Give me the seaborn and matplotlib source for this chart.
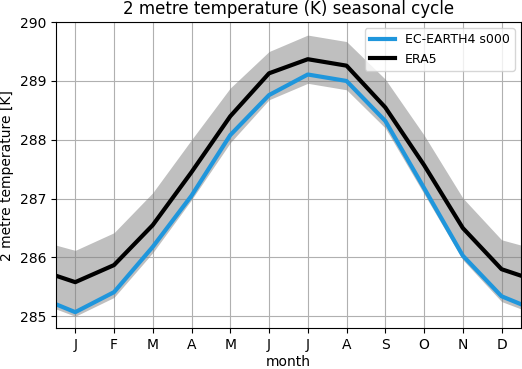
import numpy as np
import pandas as pd
import matplotlib
matplotlib.use("Agg")
import matplotlib.pyplot as plt
import seaborn as sns

month_labels = ["J", "F", "M", "A", "M", "J", "J", "A", "S", "O", "N", "D"]
model_mean = [285.07, 285.41, 286.18, 287.05, 288.08, 288.76, 289.11, 289.0, 288.32, 287.18, 286.03, 285.34]
era5_mean = [285.58, 285.87, 286.55, 287.45, 288.4, 289.13, 289.37, 289.26, 288.55, 287.57, 286.5, 285.8]
era5_upper = [286.12, 286.42, 287.1, 288.0, 288.88, 289.5, 289.78, 289.67, 289.03, 288.08, 287.01, 286.3]
era5_lower = [285.0, 285.32, 286.08, 286.98, 287.95, 288.68, 288.96, 288.85, 288.2, 287.08, 285.96, 285.25]


def wrap(vals):
    # add December before January and January after December
    return [vals[-1]] + list(vals) + [vals[0]]


months = np.arange(0, 14)
data = pd.DataFrame({
    "month": np.concatenate([months, months]),
    "t2m": wrap(model_mean) + wrap(era5_mean),
    "source": ["EC-EARTH4 s000"] * 14 + ["ERA5"] * 14,
})

fig = plt.figure(figsize=(5.22, 3.69), dpi=100)
ax = fig.add_axes([0.107, 0.111, 0.891, 0.829])

ax.fill_between(months, wrap(era5_lower), wrap(era5_upper), color="gray", alpha=0.5, linewidth=0)

sns.lineplot(
    data=data, x="month", y="t2m", hue="source",
    palette={"EC-EARTH4 s000": "#1f96dc", "ERA5": "black"},
    linewidth=3, ax=ax,
)

ax.set_xlim(0.5, 12.5)
ax.set_ylim(284.8, 290)
ax.set_xticks(np.arange(1, 13))
ax.set_xticklabels(month_labels)
ax.set_yticks([285, 286, 287, 288, 289, 290])
ax.grid(True)
ax.set_axisbelow(True)
ax.set_xlabel("month", labelpad=2)
ax.set_ylabel("2 metre temperature [K]")
ax.set_title("2 metre temperature (K) seasonal cycle", fontsize=12)
ax.legend(loc="upper right", fontsize=9)

fig.savefig("out.png", dpi=100)
